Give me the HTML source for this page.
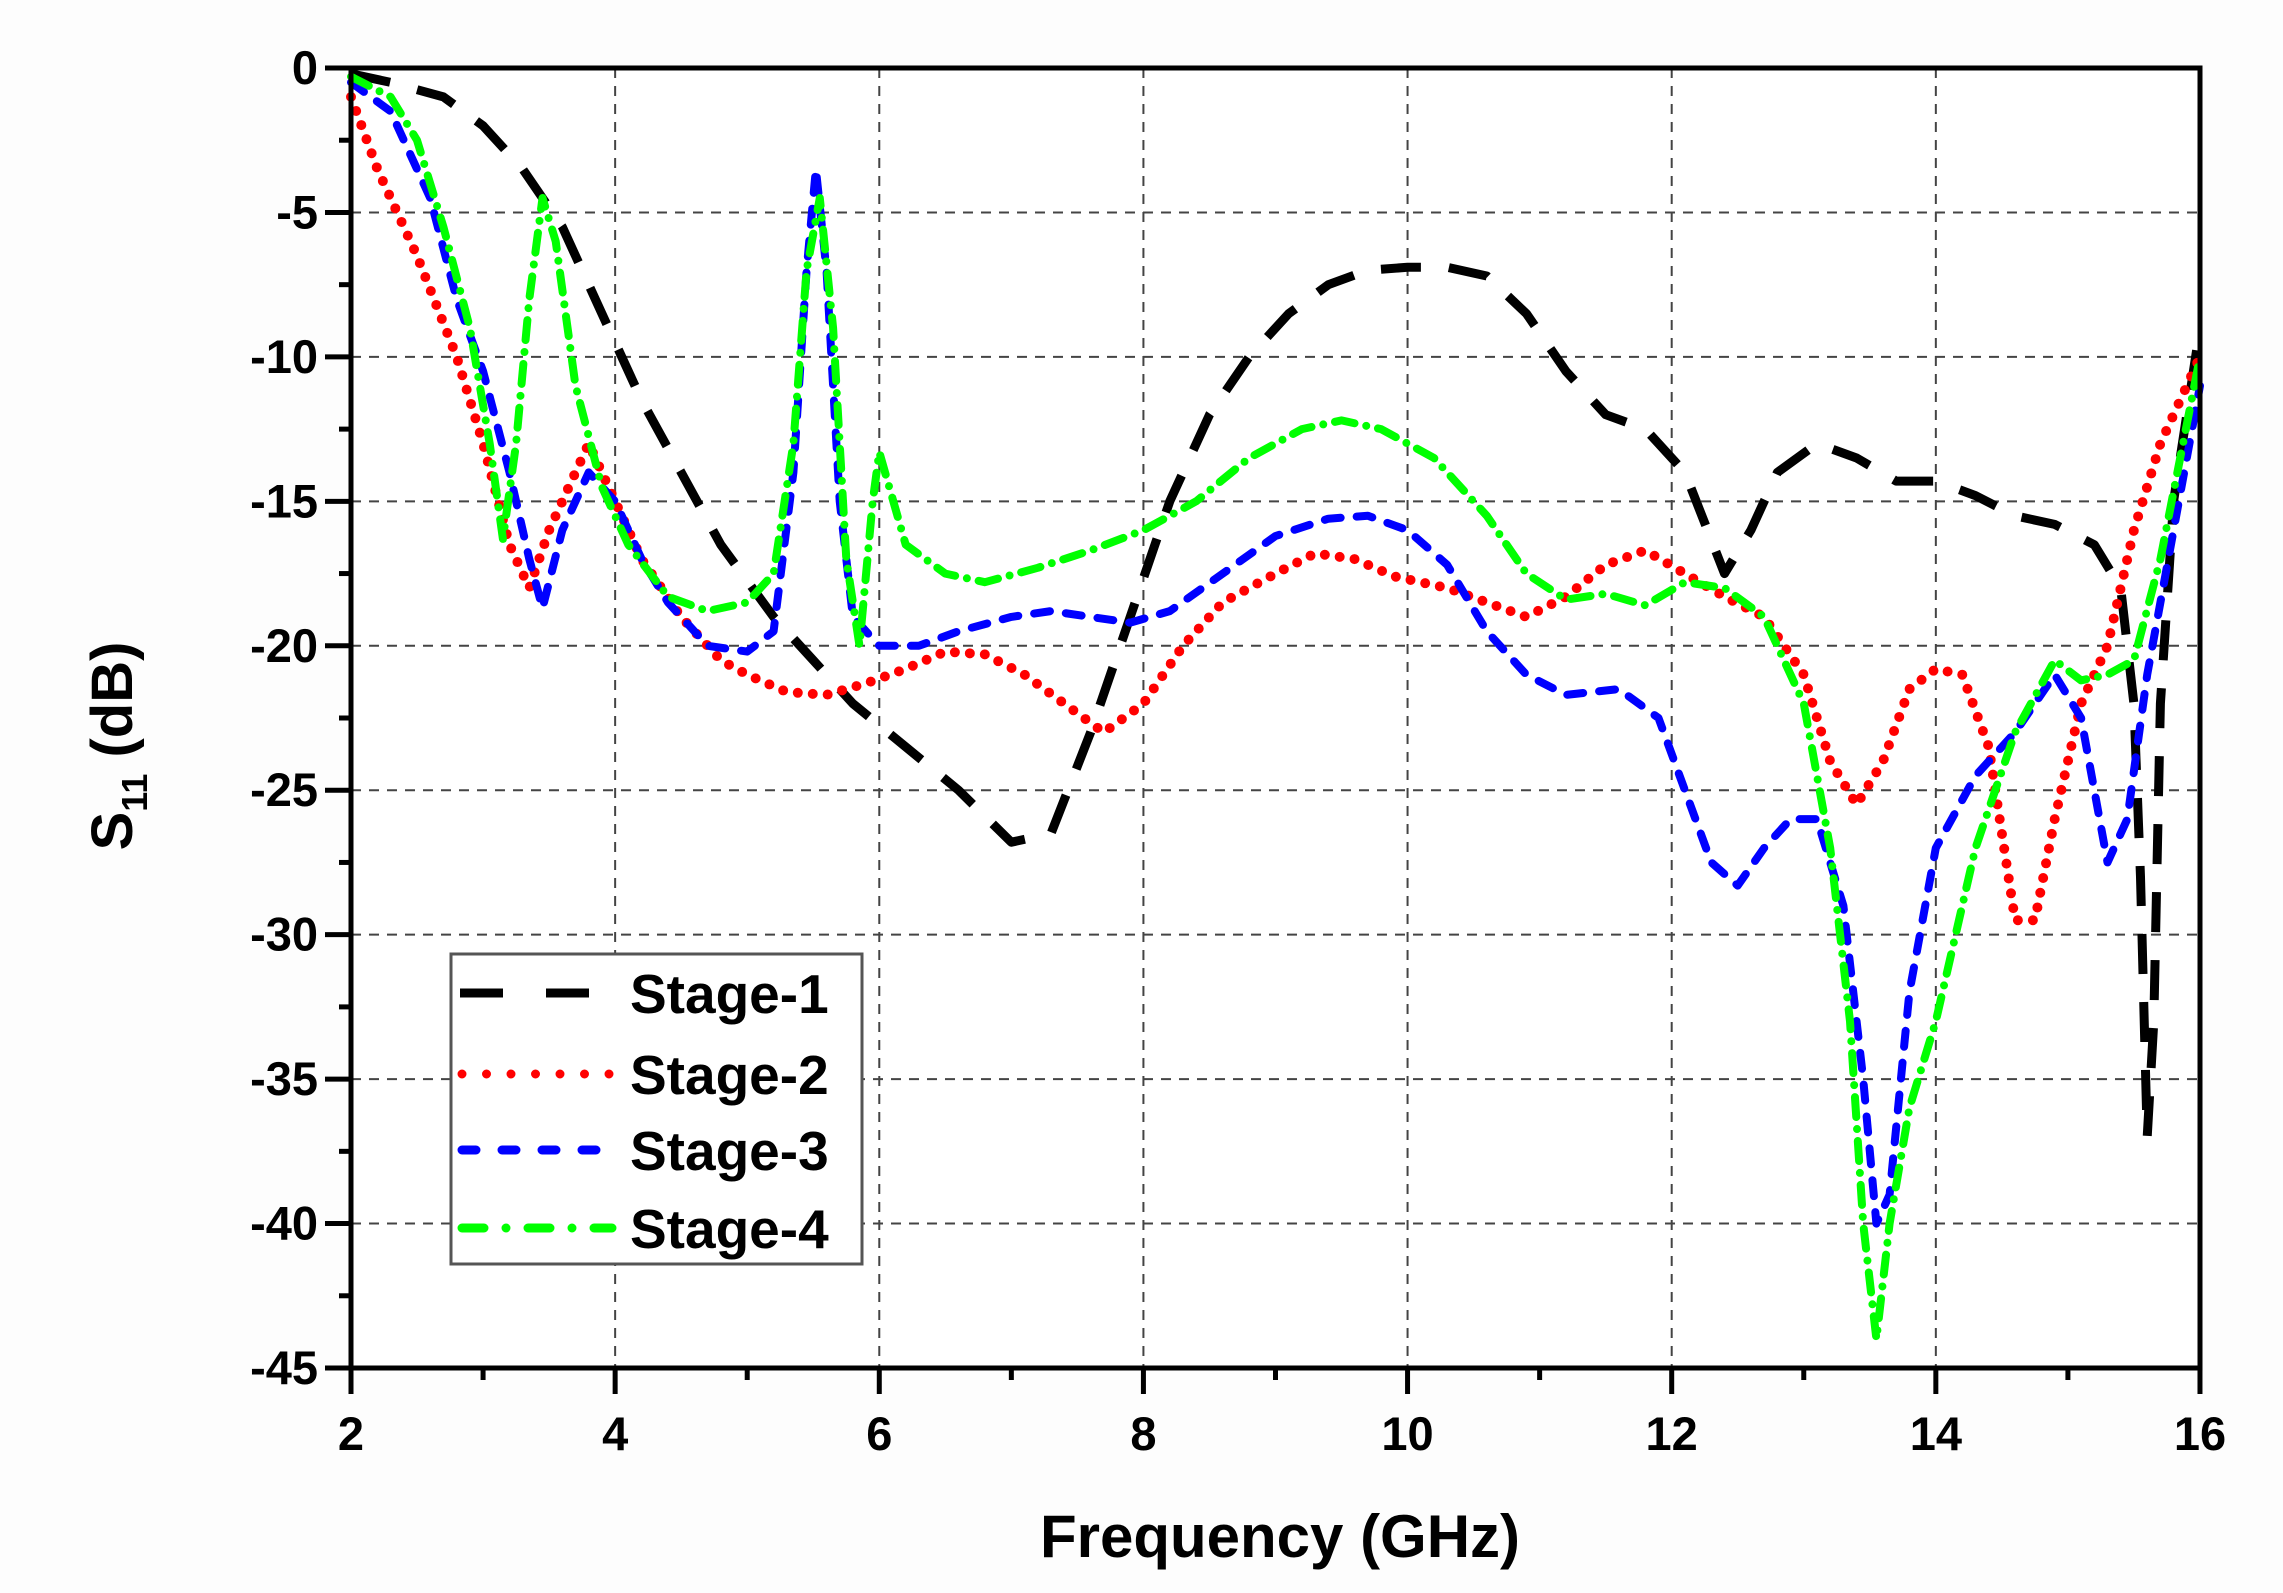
<!DOCTYPE html>
<html><head><meta charset="utf-8"><style>
html,body{margin:0;padding:0;background:#fdfdfd;}
svg{display:block;font-family:"Liberation Sans",Arial,sans-serif;font-weight:bold;}
</style></head><body>
<svg id="s" width="2283" height="1593" viewBox="0 0 2283 1593" xmlns="http://www.w3.org/2000/svg">
<rect width="2283" height="1593" fill="#fdfdfd"/>
<rect x="351" y="68" width="1849" height="1300" fill="#ffffff"/>
<g id="grid" stroke="#444" stroke-width="2" stroke-dasharray="10 8"></g>
<g id="ticks" stroke="#000" stroke-width="5"></g>
<g id="labels" font-size="47" fill="#000"></g>
<g id="series" fill="none" stroke-linejoin="round"></g>
<rect x="351" y="68" width="1849" height="1300" fill="none" stroke="#000" stroke-width="5"/>
<rect x="451" y="954" width="411" height="310" fill="#fff" stroke="#555" stroke-width="3"/>
<g stroke-width="9" fill="none">
<line x1="460" y1="993" x2="612" y2="993" stroke="#000" stroke-dasharray="43 43"/>
<line x1="462" y1="1074" x2="612" y2="1074" stroke="#f00" stroke-linecap="round" stroke-dasharray="0 24.5"/>
<line x1="462" y1="1150" x2="602" y2="1150" stroke="#00f" stroke-linecap="round" stroke-dasharray="14 26"/>
<line x1="462" y1="1228" x2="612" y2="1228" stroke="#0f0" stroke-linecap="round" stroke-dasharray="22 22 0 22"/>
</g>
<g font-size="55" fill="#000">
<text x="630" y="1013">Stage-1</text>
<text x="630" y="1094">Stage-2</text>
<text x="630" y="1170">Stage-3</text>
<text x="630" y="1248">Stage-4</text>
</g>
<text x="1280" y="1557" font-size="60" text-anchor="middle">Frequency (GHz)</text>
<g transform="translate(132,746) rotate(-90)">
<text x="0" y="0" font-size="58" text-anchor="middle">S<tspan font-size="36" dy="15">11</tspan><tspan dy="-15"> (dB)</tspan></text>
</g>
</svg>
<script>
var X=function(f){return 351+(f-2)*264.14/2;},Y=function(d){return 68-d*28.889;};
var NS="http://www.w3.org/2000/svg";
function el(p,t,a,txt){var e=document.createElementNS(NS,t);for(var k in a)e.setAttribute(k,a[k]);if(txt!=null)e.textContent=txt;document.getElementById(p).appendChild(e);return e;}
for(var f=4;f<=14;f+=2)el("grid","line",{x1:X(f),y1:68,x2:X(f),y2:1368});
for(var d=-5;d>=-40;d-=5)el("grid","line",{x1:351,y1:Y(d),x2:2200,y2:Y(d)});
for(var f=2;f<=16;f++){var m=f%2==0;el("ticks","line",{x1:X(f),y1:1368,x2:X(f),y2:1368+(m?26:12)});if(m)el("labels","text",{x:X(f),y:1450,"text-anchor":"middle"},String(f));}
for(var d=0;d>=-45;d-=2.5){var m=(d%5==0);el("ticks","line",{x1:351,y1:Y(d),x2:351-(m?26:12),y2:Y(d)});if(m)el("labels","text",{x:318,y:Y(d)+16,"text-anchor":"end"},String(d));}
var S=[
["#000","40 28","butt",9,[[2,-0.2],[2.3,-0.5],[2.7,-1],[3,-2],[3.3,-3.5],[3.6,-5.5],[3.9,-8.5],[4.2,-11.5],[4.5,-14],[4.8,-16.5],[5.2,-19],[5.5,-20.5],[5.8,-22],[6.2,-23.5],[6.6,-25],[7,-26.8],[7.3,-26.5],[7.6,-23],[7.9,-19],[8.2,-15],[8.5,-12],[8.8,-10],[9.1,-8.5],[9.4,-7.5],[9.7,-7],[10,-6.9],[10.3,-6.9],[10.6,-7.2],[10.9,-8.5],[11.2,-10.5],[11.5,-12],[11.8,-12.5],[12.1,-14],[12.4,-17.5],[12.6,-16],[12.8,-14],[13.1,-13],[13.4,-13.5],[13.7,-14.3],[14,-14.3],[14.3,-14.8],[14.6,-15.5],[14.9,-15.8],[15.2,-16.5],[15.4,-18],[15.5,-22],[15.55,-28],[15.6,-37],[15.65,-33],[15.7,-22],[15.8,-15],[16,-9]]],
["#f00","0 15","round",10,[[2,-1],[2.2,-3.5],[2.5,-6.5],[2.8,-10],[3.0,-13],[3.2,-16.5],[3.35,-18],[3.5,-16],[3.7,-14],[3.8,-13],[4.0,-15],[4.2,-17],[4.5,-19],[4.8,-20.5],[5.0,-21],[5.3,-21.6],[5.6,-21.7],[5.9,-21.3],[6.2,-20.8],[6.5,-20.2],[6.8,-20.3],[7.1,-21],[7.4,-22],[7.7,-23],[8.0,-22],[8.3,-20],[8.6,-18.5],[9.0,-17.5],[9.3,-16.8],[9.6,-17],[9.9,-17.6],[10.3,-18],[10.6,-18.5],[10.9,-19],[11.2,-18.3],[11.5,-17.2],[11.8,-16.7],[12.1,-17.5],[12.4,-18.3],[12.7,-19],[13.0,-21],[13.2,-24],[13.4,-25.5],[13.6,-24],[13.8,-21.5],[14.0,-20.8],[14.2,-21],[14.4,-23.5],[14.6,-29.5],[14.75,-29.5],[14.9,-26],[15.1,-22],[15.3,-20],[15.5,-16],[15.7,-13],[16,-10]]],
["#00f","16 16","round",8,[[2,-0.5],[2.3,-1.5],[2.6,-4.5],[2.8,-8],[3.0,-10.5],[3.2,-14],[3.35,-17],[3.45,-18.7],[3.6,-16],[3.8,-14],[4.0,-15],[4.2,-17],[4.4,-18.5],[4.7,-20],[5.0,-20.2],[5.2,-19.5],[5.35,-14],[5.45,-7],[5.52,-3.5],[5.6,-7],[5.7,-15],[5.8,-19],[6.0,-20],[6.3,-20],[6.6,-19.5],[7.0,-19],[7.3,-18.8],[7.6,-19],[7.9,-19.2],[8.2,-18.8],[8.6,-17.5],[9.0,-16.2],[9.4,-15.6],[9.7,-15.5],[10.0,-16],[10.3,-17.2],[10.6,-19.5],[10.9,-21],[11.2,-21.7],[11.6,-21.5],[11.9,-22.5],[12.1,-25],[12.3,-27.5],[12.5,-28.3],[12.7,-27],[12.9,-26],[13.1,-26],[13.3,-29],[13.45,-35],[13.55,-40],[13.65,-39],[13.8,-32],[14.0,-27],[14.3,-24.5],[14.6,-23],[14.9,-21],[15.1,-22.5],[15.3,-27.5],[15.45,-26],[15.6,-21],[15.8,-16],[16,-11]]],
["#0f0","20 12 0 12","round",8,[[2,-0.3],[2.3,-1],[2.5,-2.5],[2.7,-5.5],[2.9,-9],[3.05,-13],[3.15,-16.3],[3.25,-13],[3.35,-8],[3.45,-4.5],[3.55,-6],[3.7,-11],[3.9,-14.5],[4.1,-16.5],[4.4,-18.3],[4.7,-18.8],[5.0,-18.5],[5.2,-17.5],[5.35,-13],[5.45,-7],[5.55,-4.5],[5.65,-9],[5.75,-17],[5.85,-20],[5.95,-15],[6.0,-13.3],[6.2,-16.5],[6.5,-17.5],[6.8,-17.8],[7.2,-17.3],[7.6,-16.7],[8.0,-16],[8.4,-15],[8.8,-13.5],[9.2,-12.5],[9.5,-12.2],[9.8,-12.5],[10.2,-13.5],[10.6,-15.5],[10.9,-17.5],[11.2,-18.4],[11.5,-18.2],[11.8,-18.6],[12.1,-17.8],[12.4,-18],[12.7,-19],[13.0,-22],[13.2,-27],[13.35,-33],[13.45,-40],[13.55,-44],[13.65,-40],[13.8,-36],[14.0,-33],[14.3,-27],[14.6,-23],[14.9,-20.5],[15.1,-21.2],[15.3,-21],[15.5,-20.5],[15.7,-17],[16,-10]]]];
S.forEach(function(s){var p=s[4].map(function(q){return X(q[0]).toFixed(1)+","+Y(q[1]).toFixed(1);}).join(" ");
el("series","polyline",{points:p,stroke:s[0],"stroke-width":s[3],"stroke-dasharray":s[1],"stroke-linecap":s[2]});});
</script>
</body></html>
